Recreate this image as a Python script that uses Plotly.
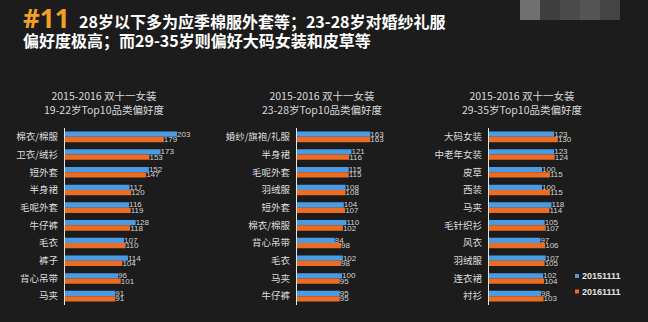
import plotly.graph_objects as go

# ---------------- data ----------------
cats_1922 = ["棉衣/棉服", "卫衣/绒衫", "短外套", "半身裙", "毛呢外套", "牛仔裤", "毛衣", "裤子", "背心吊带", "马夹"]
v2015_1922 = [203, 173, 152, 117, 116, 128, 107, 114, 96, 91]
v2016_1922 = [179, 153, 147, 120, 119, 118, 110, 104, 101, 91]

cats_2328 = ["婚纱/旗袍/礼服", "半身裙", "毛呢外套", "羽绒服", "短外套", "棉衣/棉服", "背心吊带", "毛衣", "马夹", "牛仔裤"]
v2015_2328 = [163, 121, 115, 108, 104, 110, 84, 102, 100, 95]
v2016_2328 = [163, 116, 115, 108, 107, 102, 98, 98, 95, 95]

cats_2935 = ["大码女装", "中老年女装", "皮草", "西装", "马夹", "毛针织衫", "风衣", "羽绒服", "连衣裙", "衬衫"]
v2015_2935 = [123, 123, 100, 100, 118, 105, 97, 107, 102, 98]
v2016_2935 = [130, 124, 115, 115, 114, 107, 106, 105, 104, 103]

series_names = ["20151111", "20161111"]
panel_titles = ["2015-2016 双十一女装<br>19-22岁Top10品类偏好度",
                "2015-2016 双十一女装<br>23-28岁Top10品类偏好度",
                "2015-2016 双十一女装<br>29-35岁Top10品类偏好度"]
title_tag = "#11"
title_line1 = "28岁以下多为应季棉服外套等；23-28岁对婚纱礼服"
title_line2 = "偏好度极高；而29-35岁则偏好大码女装和皮草等"

# ---------------- style ----------------
W, H = 648, 322
BG = "#1c1c1c"
BLUE = "#4b9be4"
ORANGE = "#ec6c22"
CJK = "Noto Sans CJK SC"
NARROW = "Liberation Sans Narrow, Noto Sans CJK SC"

def px_x(p):
    return p / W

def px_y(p):
    return 1 - p / H

panels = [
    (cats_1922, v2015_1922, v2016_1922),
    (cats_2328, v2015_2328, v2016_2328),
    (cats_2935, v2015_2935, v2016_2935),
]
# (axis pixel left, axis pixel right) for range [0, 250]
x_domains_px = [(65, 203), (297, 409.5), (489, 621.5)]
title_centers_px = [104, 322, 522]
y_dom = [px_y(305), px_y(128)]

fig = go.Figure()
layout = dict(
    width=W, height=H,
    margin=dict(l=0, r=0, t=0, b=0),
    paper_bgcolor=BG, plot_bgcolor=BG,
    barmode="group", bargap=0.4, bargroupgap=0.0,
    showlegend=False,
    font=dict(family=CJK, color="#dddddd"),
)

for i, (cats, a, b) in enumerate(panels):
    sfx = "" if i == 0 else str(i + 1)
    for name, vals, col in [(series_names[0], a, BLUE), (series_names[1], b, ORANGE)]:
        fig.add_trace(go.Bar(
            y=cats, x=vals, orientation="h", name=name,
            marker=dict(color=col, line=dict(width=0)),
            text=vals, textposition="outside", constraintext="none",
            textfont=dict(size=8, color="#d4d4d4", family="Liberation Sans Narrow, Arial"),
            cliponaxis=False,
            xaxis="x" + sfx, yaxis="y" + sfx,
        ))
    x0, x1 = x_domains_px[i]
    layout["xaxis" + sfx] = dict(
        domain=[px_x(x0), px_x(x1)], range=[0, 250], anchor="y" + sfx,
        visible=False, showgrid=False, zeroline=False, fixedrange=True,
    )
    layout["yaxis" + sfx] = dict(
        domain=y_dom, anchor="x" + sfx, autorange="reversed",
        showline=True, linecolor="#e6e6e6", linewidth=1,
        ticks="", showgrid=False, zeroline=False,
        ticklabelstandoff=4,
        tickfont=dict(size=9.5, color="#dcdcdc", family=CJK),
    )

annotations = []
# main title
annotations.append(dict(
    text="<b>" + title_tag + "</b>", x=px_x(21), y=px_y(18),
    xref="paper", yref="paper", xanchor="left", yanchor="middle",
    showarrow=False, font=dict(size=26, color="#f2a127", family="Open Sans, " + CJK),
))
annotations.append(dict(
    text="<b>" + title_line1 + "</b>", x=px_x(77), y=px_y(21),
    xref="paper", yref="paper", xanchor="left", yanchor="middle",
    showarrow=False, font=dict(size=16, color="#ffffff", family=CJK),
))
annotations.append(dict(
    text="<b>" + title_line2 + "</b>", x=px_x(21), y=px_y(40),
    xref="paper", yref="paper", xanchor="left", yanchor="middle",
    showarrow=False, font=dict(size=16, color="#ffffff", family=CJK),
))
# panel subtitles
for i, t in enumerate(panel_titles):
    annotations.append(dict(
        text=t, x=px_x(title_centers_px[i]), y=px_y(102.5),
        xref="paper", yref="paper", xanchor="center", yanchor="middle",
        align="center", showarrow=False,
        font=dict(size=10.5, color="#d8d8d8", family=NARROW),
    ))
# legend (custom, small markers)
shapes = []
for j, (name, col) in enumerate(zip(series_names, [BLUE, ORANGE])):
    cy = 276 + j * 15.5
    shapes.append(dict(type="rect", xref="paper", yref="paper",
                       x0=px_x(575), x1=px_x(579), y0=px_y(cy + 2), y1=px_y(cy - 2),
                       fillcolor=col, line=dict(width=0)))
    annotations.append(dict(
        text="<b>" + name + "</b>", x=px_x(580), y=px_y(cy),
        xref="paper", yref="paper", xanchor="left", yanchor="middle",
        showarrow=False, font=dict(size=9, color="#e0e0e0", family="Liberation Sans, Arial"),
    ))
# mosaic watermark blocks at top right
for k, c in enumerate(["#707070", "#3e3e3e", "#4a4a4a", "#555555", "#444444"]):
    shapes.append(dict(type="rect", xref="paper", yref="paper",
                       x0=px_x(520 + 20 * k), x1=px_x(540 + 20 * k),
                       y0=px_y(20), y1=px_y(0), fillcolor=c, line=dict(width=0),
                       layer="below"))

layout["annotations"] = annotations
layout["shapes"] = shapes
fig.update_layout(**layout)
fig.write_html("out.html")
